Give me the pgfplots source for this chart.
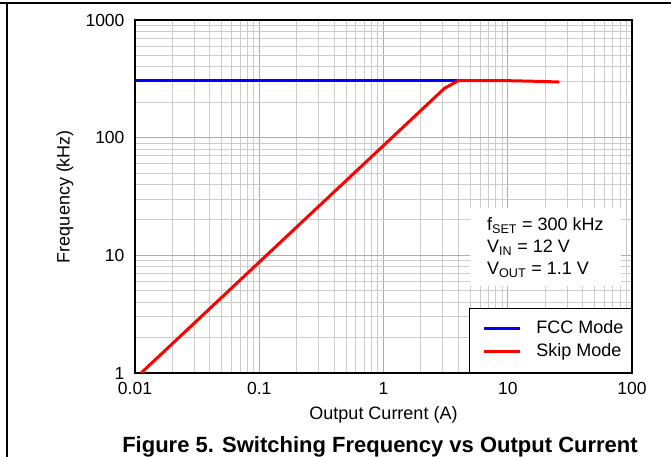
\documentclass[border=0pt]{standalone}
\usepackage{pgfplots}
\pgfplotsset{compat=1.18}
\usepackage{fontspec}
\setmainfont{Liberation Sans}
\begin{document}
\begin{tikzpicture}[x=1pt,y=1pt]
\path[use as bounding box] (0,0) rectangle (671,457);
\draw[line width=1.3pt] (0,454) -- (671,454);
\draw[line width=1.3pt] (7,454.65) -- (7,0);
\begin{axis}[
  at={(135pt,84pt)}, anchor=south west,
  scale only axis, width=497pt, height=353pt,
  xmode=log, ymode=log,
  xmin=0.01, xmax=100, ymin=1, ymax=1000,
  xtick={0.01,0.1,1,10,100},
  xticklabels={0.01,0.1,1,10,100},
  ytick={1,10,100,1000},
  yticklabels={1,10,100,1000},
  grid=both,
  major grid style={gray!65, line width=1pt},
  minor grid style={gray!40, line width=0.9pt},
  major tick length=0pt, minor tick length=0pt,
  axis line style={line width=1.8pt},
  tick label style={font=\fontsize{17.5}{20}\selectfont},
  xticklabel style={yshift=-6pt},
  yticklabel style={xshift=-7pt},
  xlabel={Output Current (A)},
  ylabel={Frequency (kHz)},
  label style={font=\fontsize{18}{21}\selectfont},
  xlabel style={at={(axis description cs:0.5,-0.119)}, anchor=center},
  ylabel style={at={(axis description cs:-0.141,0.5)}, anchor=center},
  legend style={at={(1,0)}, anchor=south east, draw=black, line width=1.3pt,
    font=\fontsize{18}{21}\selectfont, inner xsep=8pt, inner ysep=12pt,
    nodes={inner sep=0pt, text height=13pt, text depth=4pt},
    row sep=6pt, cells={anchor=west}},
  legend image code/.code={\path[draw=none,fill=none] (-7pt,0pt) -- (52pt,0pt);\draw[#1, line width=3pt] (0pt,0pt) -- (36pt,0pt);},
]
\addplot[blue, line width=3pt] coordinates {(0.01,305) (4,305)};
\addlegendentry{FCC Mode}
\addplot[red, line width=3pt] coordinates {(0.0112,1) (3.1,263) (4,305) (10,305) (20,300) (26,297)};
\addlegendentry{Skip Mode}
\node[fill=white, anchor=north west, align=left, inner xsep=17pt, inner ysep=9pt,
  font=\fontsize{18}{22}\selectfont] at (rel axis cs:0.674,0.467)
  {f\textsubscript{SET} = 300 kHz\\V\textsubscript{IN} = 12 V\\V\textsubscript{OUT} = 1.1 V};
\end{axis}
\node[anchor=base, font=\bfseries\fontsize{22}{25}\selectfont] at (380,4) {Figure 5. Switching Frequency vs Output Current};
\end{tikzpicture}
\end{document}
